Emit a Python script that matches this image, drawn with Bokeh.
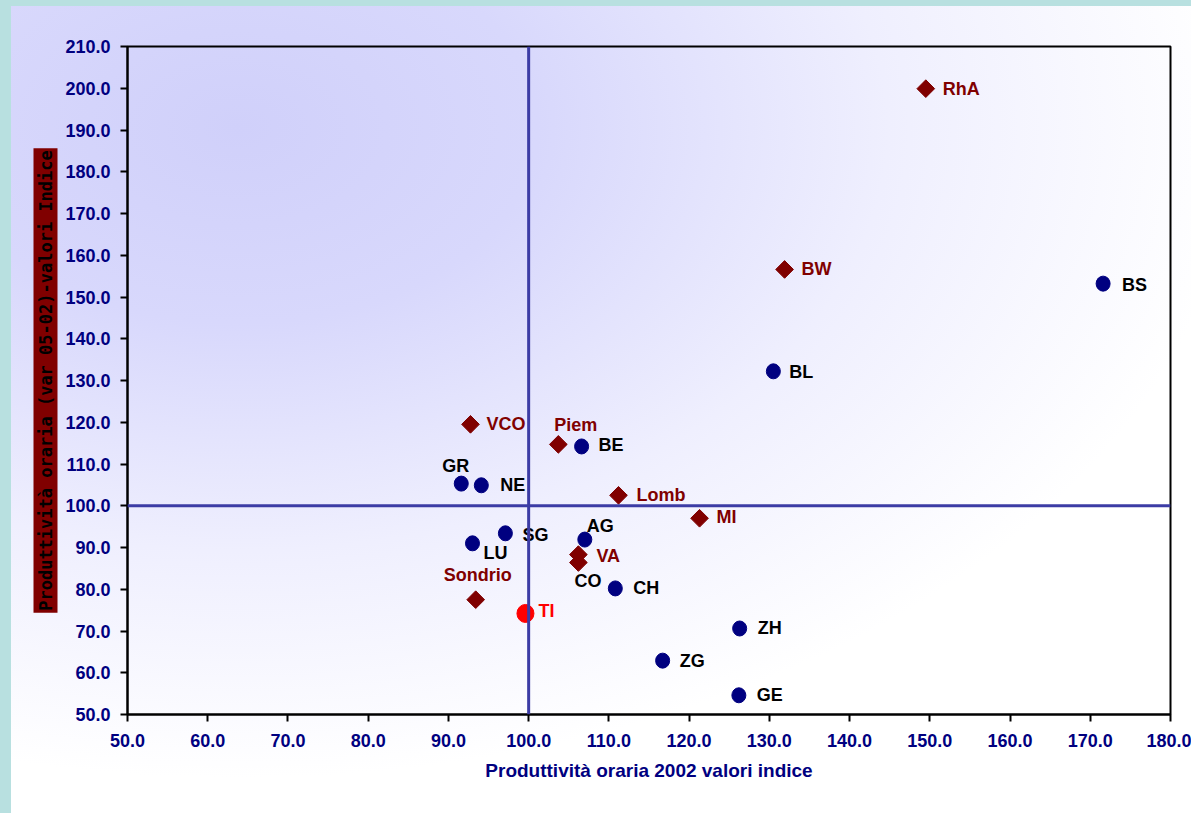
import math
from bokeh.plotting import figure
from bokeh.models import Range1d, FixedTicker, PrintfTickFormatter, Span, Title, ColumnDataSource
from bokeh.embed import file_html
from bokeh.resources import INLINE
from bokeh.core.properties import value

# ---------------- data ----------------
swiss_names = ["BS", "BL", "BE", "GR", "NE", "SG", "LU", "AG", "CH", "ZH", "ZG", "GE"]
swiss_x = [171.6, 130.5, 106.6, 91.6, 94.1, 97.1, 93.0, 107.0, 110.8, 126.3, 116.7, 126.2]
swiss_y = [153.2, 132.2, 114.2, 105.3, 104.9, 93.4, 91.0, 91.9, 80.2, 70.6, 62.9, 54.6]

ital_names = ["RhA", "BW", "VCO", "Piem", "Lomb", "MI", "VA", "CO", "Sondrio"]
ital_x = [149.5, 131.9, 92.75, 103.7, 111.2, 121.3, 106.2, 106.2, 93.4]
ital_y = [199.9, 156.6, 119.5, 114.7, 102.5, 97.0, 88.3, 86.4, 77.5]

ti_names = ["TI"]
ti_x = [99.6]
ti_y = [74.2]

x_ticks = [50, 60, 70, 80, 90, 100, 110, 120, 130, 140, 150, 160, 170, 180]
y_ticks = [50, 60, 70, 80, 90, 100, 110, 120, 130, 140, 150, 160, 170, 180, 190, 200, 210]
ref_x = 100
ref_y = 100

x_title = "Produttività oraria 2002 valori indice"
y_title = "Produttività oraria (var 05-02)-valori Indice"

# ---------------- label placement (styles, pixels) ----------------
swiss_dx = [19, 16, 17, -19, 19, 17, 11, 2, 18, 18, 17, 18]
swiss_dy = [1, 1, -1, -18, 0, 2, 10, -14, 0, 0, 0, 0]
ital_dx = [17, 17, 16, -4, 18, 17, 18, -4, -32]
ital_dy = [0, 0, 0, -19, 0, -1, 1, 18, -25]
ital_lcol = ["#800000"] * 7 + ["#000000", "#800000"]
ti_dx = [13]
ti_dy = [-2]

NAVY = "#000080"
MAROON = "#800000"
FONT = value("Liberation Sans")

p = figure(width=1191, height=813,
           x_range=Range1d(50, 180), y_range=Range1d(50, 210),
           output_backend="svg", toolbar_location=None,
           min_border_left=127, min_border_right=21,
           min_border_top=46, min_border_bottom=99)

p.background_fill_alpha = 0
p.border_fill_alpha = 0
p.styles = {
    "background": "linear-gradient(to right, #B8E0E0 0px, #B8E0E0 11px, transparent 11px), "
                  "linear-gradient(to bottom, #B8E0E0 0px, #B8E0E0 6px, transparent 6px), "
                  "radial-gradient(ellipse 1000px 650px at 238px 128px, #D0D0FA 0%, #D8D8FC 30%, #EFEFFE 65%, #FFFFFF 100%)",
}

p.grid.visible = False
p.outline_line_color = "black"
p.outline_line_width = 2

for ax in (p.xaxis[0], p.yaxis[0]):
    ax.axis_line_color = "black"
    ax.axis_line_width = 2
    ax.major_tick_line_color = "black"
    ax.major_tick_line_width = 2
    ax.major_tick_in = 0
    ax.major_tick_out = 7
    ax.minor_tick_line_color = None
    ax.major_label_text_font = "Liberation Sans"
    ax.major_label_text_font_style = "bold"
    ax.major_label_text_font_size = "18px"
    ax.major_label_text_color = NAVY
    ax.major_label_standoff = 10
    ax.formatter = PrintfTickFormatter(format="%.1f")

p.xaxis.ticker = FixedTicker(ticks=x_ticks)
p.yaxis.ticker = FixedTicker(ticks=y_ticks)
p.xaxis.major_label_standoff = 12
p.xaxis.axis_label = x_title
p.xaxis.axis_label_text_font = "Liberation Sans"
p.xaxis.axis_label_text_font_style = "bold"
p.xaxis.axis_label_text_font_size = "19px"
p.xaxis.axis_label_text_color = NAVY
p.xaxis.axis_label_standoff = 10

ytitle = Title(text=y_title, align="center",
               text_font="DejaVu Sans Mono", text_font_style="bold",
               text_font_size="17px", text_color="black",
               background_fill_color=MAROON, padding=2, standoff=10)
p.add_layout(ytitle, "left")

# ---------------- glyphs ----------------
s_src = ColumnDataSource(dict(x=swiss_x, y=swiss_y, t=swiss_names, dx=swiss_dx, dy=swiss_dy))
i_src = ColumnDataSource(dict(x=ital_x, y=ital_y, t=ital_names, dx=ital_dx, dy=ital_dy, c=ital_lcol))
t_src = ColumnDataSource(dict(x=ti_x, y=ti_y, t=ti_names, dx=ti_dx, dy=ti_dy))

p.ellipse(x="x", y="y", width=14, height=15, width_units="screen", height_units="screen",
          fill_color=NAVY, line_color=NAVY, source=s_src)
p.scatter(x="x", y="y", marker="square", size=12.5, angle=math.pi / 4,
          fill_color=MAROON, line_color=MAROON, source=i_src)
p.ellipse(x="x", y="y", width=17, height=18, width_units="screen", height_units="screen",
          fill_color="#FF0000", line_color="#FF0000", source=t_src)

common = dict(text="t", x_offset="dx", y_offset="dy", text_align="left", text_baseline="middle",
              text_font=FONT, text_font_style="bold", text_font_size="18px")
p.text(x="x", y="y", text_color="black", source=s_src, **common)
p.text(x="x", y="y", text_color="c", source=i_src, **common)
p.text(x="x", y="y", text_color="#FF0000", source=t_src, **common)

# reference lines
p.add_layout(Span(location=ref_x, dimension="height", line_color="#3C3CA5", line_width=3))
p.add_layout(Span(location=ref_y, dimension="width", line_color="#3C3CA5", line_width=3))

open("out.html", "w").write(file_html(p, INLINE))
